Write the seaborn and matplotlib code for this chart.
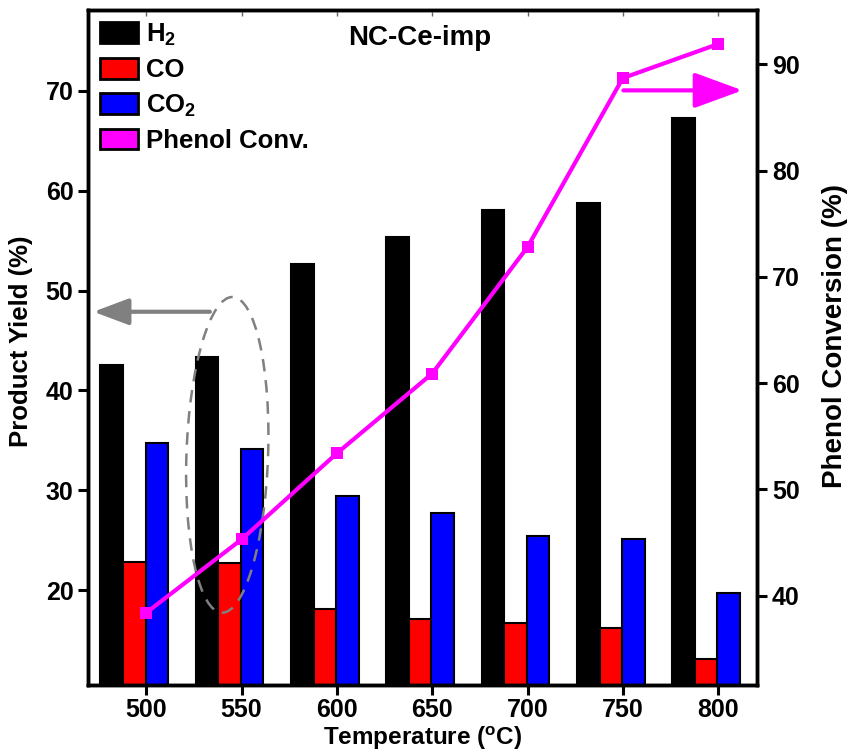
import numpy as np
import pandas as pd
import matplotlib
matplotlib.use("Agg")
import matplotlib.pyplot as plt
import seaborn as sns
from matplotlib.patches import Ellipse, Patch

temps = ["500", "550", "600", "650", "700", "750", "800"]
h2 = [42.5, 43.4, 52.7, 55.4, 58.1, 58.8, 67.3]
co = [22.8, 22.7, 18.1, 17.1, 16.7, 16.2, 13.1]
co2 = [34.7, 34.1, 29.4, 27.7, 25.4, 25.1, 19.7]
phenol = [38.4, 45.3, 53.4, 60.9, 72.8, 88.7, 91.9]
gases = ["H$_2$", "CO", "CO$_2$"]
colors = ["#000000", "#ff0000", "#0000ff"]

df = pd.DataFrame({
    "Temperature": temps * 3,
    "Gas": [gases[0]] * 7 + [gases[1]] * 7 + [gases[2]] * 7,
    "Yield": h2 + co + co2,
})

sns.set_style("ticks", {"text.color": "black", "axes.labelcolor": "black",
                        "xtick.color": "black", "ytick.color": "black",
                        "axes.edgecolor": "black"})
plt.rcParams["font.family"] = ["Liberation Sans", "DejaVu Sans"]
plt.rcParams["font.weight"] = "bold"
plt.rcParams["mathtext.fontset"] = "custom"
plt.rcParams["mathtext.rm"] = "Liberation Sans:bold"
plt.rcParams["mathtext.bf"] = "Liberation Sans:bold"
plt.rcParams["mathtext.default"] = "bf"

fig = plt.figure(figsize=(8.47, 7.55), dpi=100)
ax = fig.add_axes([0.104, 0.0927, 0.79, 0.894])

sns.barplot(data=df, x="Temperature", y="Yield", hue="Gas",
            palette=colors, width=0.71, edgecolor="black", linewidth=1.5,
            saturation=1, ax=ax, legend=False)
# shift the bar groups a bit to the left, as in the original
for p in ax.patches:
    p.set_x(p.get_x() - 0.126)

ax.set_xlim(-0.61, 6.41)
ax.set_ylim(10.5, 78.1)
ax.set_yticks([20, 30, 40, 50, 60, 70])
ax.set_xlabel("Temperature ($^{o}$C)", fontsize=17.5, fontweight="bold")
ax.set_ylabel("Product Yield (%)", fontsize=18.5, fontweight="bold")
ax.xaxis.set_label_coords(0.5, -0.059)
ax.yaxis.set_label_coords(-0.083, 0.51)
ax.tick_params(axis="both", labelsize=18, width=2.2, length=7, direction="out")
ax.tick_params(axis="x", pad=2)
for s in ax.spines.values():
    s.set_linewidth(2.5)

ax2 = ax.twinx()
sns.pointplot(x=temps, y=phenol, color="#ff00ff", markers="s", markersize=8,
              markeredgewidth=0, linewidth=3, ax=ax2)
ax2.set_xlim(-0.61, 6.41)
ax2.set_ylim(31.6, 95.1)
ax2.set_yticks([40, 50, 60, 70, 80, 90])
ax2.set_ylabel("Phenol Conversion (%)", fontsize=20, fontweight="bold")
ax2.yaxis.set_label_coords(1.097, 0.517)
ax2.tick_params(axis="y", labelsize=18, width=2.2, length=7, direction="out")
# faint inward ticks along the top edge
ax2.xaxis.set_visible(True)
ax2.set_xlabel("")
ax2.tick_params(axis="x", bottom=False, labelbottom=False, top=True,
                labeltop=False, direction="in", length=4, width=1,
                color="#666666")
for s in ax2.spines.values():
    s.set_linewidth(2.5)

ax2.text(0.495, 0.958, "NC-Ce-imp", transform=ax.transAxes, ha="center",
         va="center", fontsize=20, fontweight="bold")

ell = Ellipse((0.208, 0.341), 0.122, 0.468, angle=-2, transform=ax.transAxes,
              fill=False, edgecolor="#808080", linestyle=(0, (5, 3.5)), lw=1.8)
ax2.add_patch(ell)

ax2.annotate("", xy=(0.008, 0.553), xytext=(0.182, 0.553),
             xycoords="axes fraction", textcoords="axes fraction",
             arrowprops=dict(arrowstyle="-|>,head_length=1.2,head_width=0.45",
                             color="#808080", lw=3, mutation_scale=18,
                             shrinkA=0, shrinkB=0))
ax2.annotate("", xy=(0.978, 0.881), xytext=(0.80, 0.881),
             xycoords="axes fraction", textcoords="axes fraction",
             arrowprops=dict(arrowstyle="-|>,head_length=1.5,head_width=0.55",
                             color="#ff00ff", lw=3, mutation_scale=20,
                             shrinkA=0, shrinkB=0))

handles = [Patch(facecolor=c, edgecolor="black", linewidth=2) for c in colors]
handles.append(Patch(facecolor="#ff00ff", edgecolor="black", linewidth=2))
labels = gases + ["Phenol Conv."]
ax2.legend(handles, labels, loc="upper left", bbox_to_anchor=(0.0, 1.0),
           frameon=False, fontsize=18.5, handlelength=1.5, handleheight=0.85,
           handletextpad=0.3, labelspacing=0.4, borderpad=0.35,
           borderaxespad=0.1)

fig.savefig("out.png", dpi=100)
